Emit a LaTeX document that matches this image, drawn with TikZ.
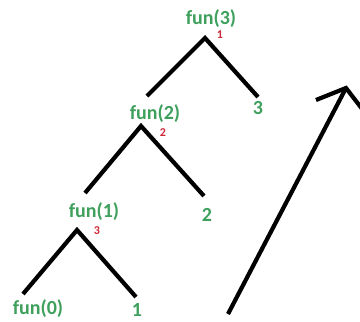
\documentclass[tikz,border=0pt]{standalone}
\usepackage{fontspec}
\setmainfont{Carlito}
\definecolor{tgreen}{RGB}{62,160,92}
\definecolor{tred}{RGB}{205,40,55}
\begin{document}
\begin{tikzpicture}[x=1pt,y=-1pt,
  lbl/.style={text=tgreen,font=\bfseries\fontsize{20}{20}\selectfont,inner sep=0pt,anchor=center},
  num/.style={text=tred,font=\bfseries\fontsize{12}{12}\selectfont,inner sep=0pt,anchor=center},
  leg/.style={line width=4.2pt,black,line join=miter}]
\useasboundingbox (0,0) rectangle (360,322);
% labels
\node[lbl] (f3) at (211,19) {fun(3)};
\node[num] (n1) at (220,35) {1};
\node[lbl] (v3) at (258,108) {3};
\node[lbl] (f2) at (155,114) {fun(2)};
\node[num] (n2) at (163,133) {2};
\node[lbl] (v2) at (207,215) {2};
\node[lbl] (f1) at (94,212) {fun(1)};
\node[num] (n3) at (97,231) {3};
\node[lbl] (f0) at (38,309) {fun(0)};
\node[lbl] (v1) at (137,310) {1};
% caret coordinates
\coordinate (a3) at (205,38);
\coordinate (a3l) at (147,96);
\coordinate (a3r) at (258,97);
\coordinate (a2) at (141,126);
\coordinate (a2l) at (85,193);
\coordinate (a2r) at (204,196);
\coordinate (a1) at (77,230);
\coordinate (a1l) at (23,294);
\coordinate (a1r) at (136,297);
\draw[leg] (a3l) -- (a3) -- (a3r);
\draw[leg] (a2l) -- (a2) -- (a2r);
\draw[leg] (a1l) -- (a1) -- (a1r);
% arrow
\coordinate (as) at (228,314);
\coordinate (at) at (346,88);
\coordinate (bl) at (316,100);
\coordinate (br) at (366,114);
\draw[leg] (as) -- (at);
\draw[leg] (bl) -- (at) -- (br);
\end{tikzpicture}
\end{document}
